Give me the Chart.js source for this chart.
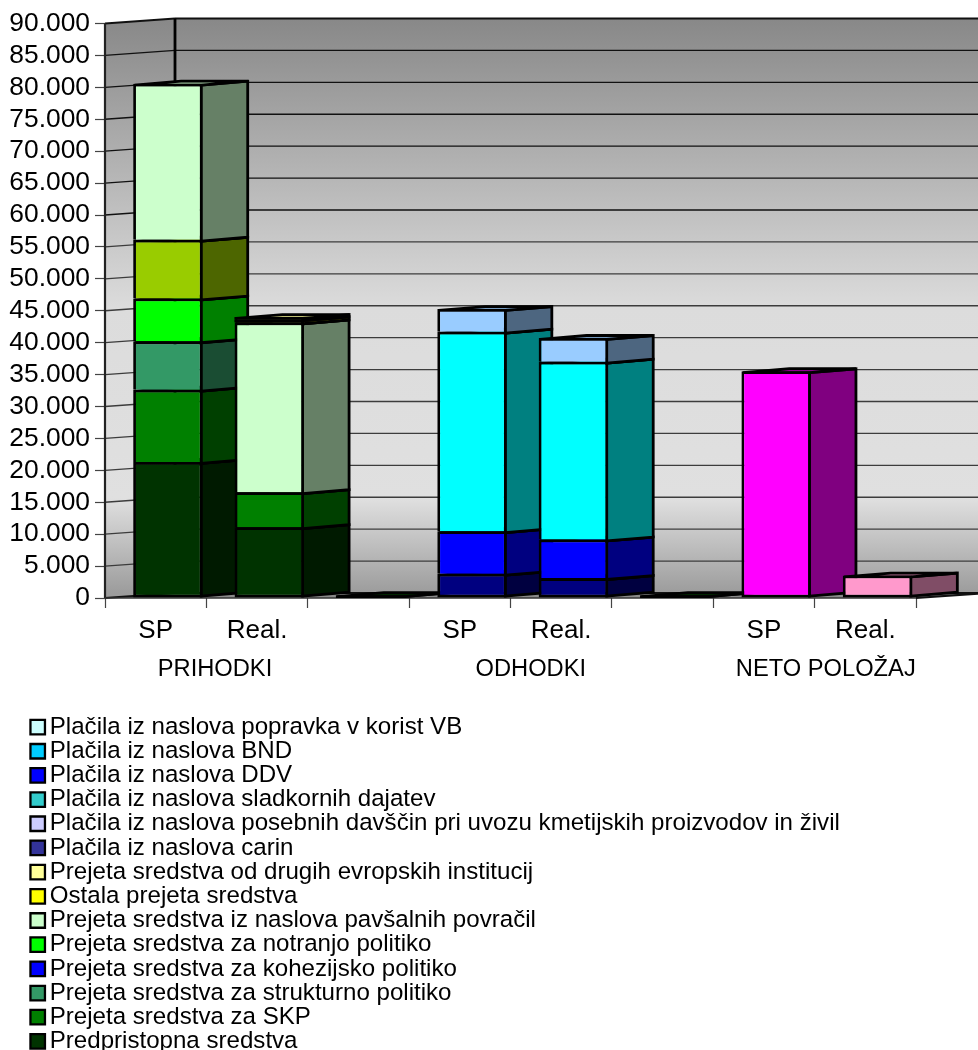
<!DOCTYPE html>
<html>
<head>
<meta charset="utf-8">
<style>
  html, body { margin: 0; padding: 0; background: #fff; overflow: hidden; }
  #wrap { width: 978px; height: 1050px; position: relative; }
</style>
<script src="https://cdn.jsdelivr.net/npm/chart.js@4/dist/chart.umd.min.js"></script>
</head>
<body>
<div id="wrap"><canvas id="budget" width="978" height="1050"></canvas></div>
<script>
// Slots on the category axis; the empty ones separate the three groups.
const categories = ['SP', 'Real.', '', 'SP', 'Real.', '', 'SP', 'Real.'];
const groupLabels = ['PRIHODKI', 'ODHODKI', 'NETO POLOŽAJ'];
const groupAnchors = [0.585, 3.70, 6.61];
const yTicks = { max: 90000, step: 5000 };

// Stacked series, bottom to top (values in millions of SIT).
const predpristopna = [21320, 11090, 0, null, null, 0, null, null];
const skp           = [11320, 5490, null, null, null, null, null, null];
const strukturna    = [7570, null, null, null, null, null, null, null];
const kohezijska    = [6700, null, null, null, null, null, null, null];
const notranja      = [9210, null, null, null, null, null, null, null];
const pavsalna      = [24450, 26600, null, null, null, null, null, null];
const ostala        = [null, 480, null, null, null, null, null, null];
const drugeInst     = [null, 350, null, null, null, null, null, null];
const carine        = [null, null, null, 3790, 3120, null, null, null];
const posebne       = [null, null, null, null, null, null, null, null];
const sladkor       = [null, null, null, null, null, null, null, null];
const ddv           = [null, null, null, 6680, 6040, null, null, null];
const bnd           = [null, null, null, 31250, 27860, null, null, null];
const popravekVB    = [null, null, null, 3550, 3710, null, null, null];
const netoPolozaj   = [null, null, null, null, null, null, 35520, 3520];

const seriesNames = [
  'Predpristopna sredstva',
  'Prejeta sredstva za SKP',
  'Prejeta sredstva za strukturno politiko',
  'Prejeta sredstva za kohezijsko politiko',
  'Prejeta sredstva za notranjo politiko',
  'Prejeta sredstva iz naslova pavšalnih povračil',
  'Ostala prejeta sredstva',
  'Prejeta sredstva od drugih evropskih institucij',
  'Plačila iz naslova carin',
  'Plačila iz naslova posebnih davščin pri uvozu kmetijskih proizvodov in živil',
  'Plačila iz naslova sladkornih dajatev',
  'Plačila iz naslova DDV',
  'Plačila iz naslova BND',
  'Plačila iz naslova popravka v korist VB'
];
const seriesValues = [predpristopna, skp, strukturna, kohezijska, notranja, pavsalna, ostala,
  drugeInst, carine, posebne, sladkor, ddv, bnd, popravekVB];
const barColors = ['#003300', '#008000', '#339966', '#00FF00', '#99CC00', '#CCFFCC', '#FFFF00',
  '#FFFF99', '#000080', '#CCCCFF', '#33CCCC', '#0000FF', '#00FFFF', '#99CCFF'];
const legendColors = ['#003300', '#008000', '#339966', '#0000FF', '#00FF00', '#CCFFCC', '#FFFF00',
  '#FFFF99', '#333399', '#CCCCFF', '#33CCCC', '#0000FF', '#00CCFF', '#CCFFFF'];
const netoColors = ['#FF00FF', '#FF00FF', '#FF00FF', '#FF00FF', '#FF00FF', '#FF00FF', '#FF00FF', '#FF99CC'];

const FONT = '"Liberation Sans", Arial, sans-serif';
const WALL_DEPTH = { x: 70, y: -5 };
const BAR_DEPTH = { x: 46.5, y: -3.9 };
const BAR_SHIFT = 12.2;
const OUTLINE = 2.8;
const LEGEND_X = 37.7;
const LEGEND_PADDING = 0.08;

function shade(hex, k) {
  const n = parseInt(hex.slice(1), 16);
  const c = s => Math.round(((n >> s) & 255) * k);
  return `rgb(${c(16)},${c(8)},${c(0)})`;
}

function polygon(ctx, pts, fill, stroke, width) {
  ctx.beginPath();
  pts.forEach((p, i) => i ? ctx.lineTo(p[0], p[1]) : ctx.moveTo(p[0], p[1]));
  ctx.closePath();
  if (fill) { ctx.fillStyle = fill; ctx.fill(); }
  if (stroke) { ctx.strokeStyle = stroke; ctx.lineWidth = width; ctx.stroke(); }
}

function segment(ctx, x1, y1, x2, y2, color, width) {
  ctx.beginPath();
  ctx.moveTo(x1, y1);
  ctx.lineTo(x2, y2);
  ctx.strokeStyle = color;
  ctx.lineWidth = width;
  ctx.stroke();
}

// Back wall, side wall, floor and gridlines of the 3D plot box.
function drawWalls(chart) {
  const { ctx, chartArea: a, scales: { y } } = chart;
  const dx = WALL_DEPTH.x, dy = WALL_DEPTH.y;
  const g = ctx.createLinearGradient(0, a.top + dy, 0, a.bottom + dy);
  g.addColorStop(0, '#888888');
  g.addColorStop(0.505, '#dcdcdc');
  g.addColorStop(0.835, '#e0e0e0');
  g.addColorStop(1, '#9c9c9c');
  polygon(ctx, [[a.left, a.top], [a.left + dx, a.top + dy], [a.left + dx, a.bottom + dy], [a.left, a.bottom]], g);
  polygon(ctx, [[a.left + dx, a.top + dy], [a.right + dx, a.top + dy], [a.right + dx, a.bottom + dy], [a.left + dx, a.bottom + dy]], g);
  polygon(ctx, [[a.left, a.bottom], [a.right, a.bottom], [a.right + dx, a.bottom + dy], [a.left + dx, a.bottom + dy]], '#8a8a8a');
  y.ticks.forEach(t => {
    const py = y.getPixelForValue(t.value);
    const strong = t.value === yTicks.max || t.value === 0;
    const shadeLine = t.value < 60000 ? '#3c3c3c' : '#111111';
    segment(ctx, a.left, py, a.left + dx, py + dy, strong ? '#111' : shadeLine, strong ? 2.2 : 1.4);
    segment(ctx, a.left + dx, py + dy, a.right + dx, py + dy, strong ? '#111' : shadeLine, strong ? 2.2 : 1.4);
  });
  segment(ctx, a.left, a.top, a.left, a.bottom, '#222', 2.2);
  segment(ctx, a.left + dx, a.top + dy, a.left + dx, a.bottom + dy, '#000', 2.8);
  segment(ctx, a.left, a.bottom, a.right, a.bottom, '#333', 1.6);
  segment(ctx, a.right, a.bottom, a.right + dx, a.bottom + dy, '#111', 2.2);
}

// One stack segment: side and top faces first, then the library's own bar element.
function drawSegment(ctx, bar, color, isZero, onFloor) {
  const { x, y, base, width } = bar.getProps(['x', 'y', 'base', 'width'], true);
  const half = OUTLINE / 2;
  const l = x - width / 2, r = x + width / 2;
  const dx = BAR_DEPTH.x, dy = BAR_DEPTH.y;
  const low = onFloor ? base - half : base + half;
  const high = isZero ? low : y + half;
  ctx.lineJoin = 'miter';
  polygon(ctx, [[r - half, low], [r - half + dx, low + dy], [r - half + dx, high + dy], [r - half, high]], shade(color, 0.5), '#000', OUTLINE);
  polygon(ctx, [[l + half, high], [r - half, high], [r - half + dx, high + dy], [l + half + dx, high + dy]], shade(color, 0.75), '#000', OUTLINE);
  if (isZero) {
    segment(ctx, l, low, r, low, '#000', OUTLINE);
  } else {
    bar.draw(ctx);
    // Very thin layers close up under their outlines.
    if (base - y < 2 * OUTLINE) {
      ctx.fillStyle = '#000';
      ctx.fillRect(l, y, width, base - y);
    }
  }
}

const plotBox = {
  id: 'plotBox',
  afterLayout(chart) {
    // The key list sits in its own column under the plot. The clip box is kept
    // wide so the swatches, centred on the entries' left edge, are not cut.
    const legend = chart.legend;
    legend.left = 0;
    legend.right = 978;
    legend.top = 715 - LEGEND_PADDING;
    legend.bottom = 1100;
    legend.width = 978;
    legend.height = legend.bottom - legend.top;
    if (!legend.placedEntries) {
      const drawEntries = legend._draw;
      legend._draw = function () {
        this.left = LEGEND_X - LEGEND_PADDING;
        drawEntries.call(this);
        this.left = 0;
      };
      legend.placedEntries = true;
    }
  },
  beforeDatasetsDraw(chart) {
    const ctx = chart.ctx;
    ctx.save();
    drawWalls(chart);
    ctx.translate(BAR_SHIFT, 0);
    categories.forEach((_, slot) => {
      let onFloor = true;
      chart.data.datasets.forEach((ds, di) => {
        const v = ds.data[slot];
        if (v === null || v === undefined) return;
        const bar = chart.getDatasetMeta(di).data[slot];
        const color = Array.isArray(ds.backgroundColor) ? ds.backgroundColor[slot] : ds.backgroundColor;
        drawSegment(ctx, bar, color, v === 0, onFloor);
        onFloor = false;
      });
    });
    ctx.restore();
    return false;
  },
  afterDraw(chart) {
    // Group captions below the SP / Real. labels.
    const { ctx, scales: { x } } = chart;
    ctx.save();
    ctx.fillStyle = '#000';
    ctx.font = '23.7px ' + FONT;
    ctx.textAlign = 'center';
    ctx.textBaseline = 'middle';
    groupLabels.forEach((t, i) => ctx.fillText(t, x.getPixelForValue(groupAnchors[i]), 669));
    ctx.restore();
  }
};

const datasets = seriesNames.map((name, i) => ({
  label: name,
  data: seriesValues[i],
  backgroundColor: barColors[i]
}));
datasets.push({ label: 'Neto položaj', data: netoPolozaj, backgroundColor: netoColors });
datasets.forEach(d => {
  const floorSeries = d.data === predpristopna || d.data === carine || d.data === netoPolozaj;
  d.borderColor = '#000';
  // Neighbouring layers share one line: only the layer on the floor has a lower edge.
  d.borderWidth = { top: OUTLINE, left: OUTLINE, right: OUTLINE, bottom: floorSeries ? OUTLINE : 0 };
  d.borderSkipped = false;
  d.inflateAmount = 0;
  d.categoryPercentage = 0.685;
  d.barPercentage = 1;
});

new Chart(document.getElementById('budget'), {
  type: 'bar',
  data: { labels: categories, datasets },
  plugins: [plotBox],
  options: {
    responsive: false,
    animation: false,
    events: [],
    layout: { padding: { top: 23.5, right: 62, left: 0, bottom: 0 } },
    scales: {
      x: {
        stacked: true,
        grid: { drawOnChartArea: false, tickLength: 10, tickColor: '#444', tickWidth: 1.2, offset: true },
        border: { display: false },
        afterFit(s) { s.height = 1050 - 598; s.paddingLeft = 0; s.paddingRight = 0; },
        ticks: {
          autoSkip: false, maxRotation: 0, minRotation: 0, padding: 7,
          color: '#000', font: { family: FONT, size: 26 }
        }
      },
      y: {
        stacked: true,
        min: 0,
        max: yTicks.max,
        grid: { drawOnChartArea: false, tickLength: 10, tickColor: '#444', tickWidth: 1.2 },
        border: { display: false },
        afterFit(s) { s.width = 105; },
        ticks: {
          stepSize: yTicks.step, autoSkip: false, padding: 5, color: '#000',
          font: { family: FONT, size: 26.4 },
          callback: v => String(v).replace(/\B(?=(\d{3})+$)/g, '.')
        }
      }
    },
    plugins: {
      tooltip: { enabled: false },
      title: { display: false },
      legend: {
        position: 'chartArea',
        align: 'start',
        labels: {
          usePointStyle: true,
          boxWidth: 0.01,
          boxHeight: 14.5,
          padding: LEGEND_PADDING,
          color: '#000',
          font: { family: FONT, size: 24.1 },
          generateLabels: () => seriesNames.map((name, i) => ({
            text: name,
            fillStyle: legendColors[i],
            strokeStyle: '#000',
            lineWidth: 2.3,
            pointStyle: 'rect',
            hidden: false,
            datasetIndex: i
          })).reverse()
        }
      }
    }
  }
});
</script>
</body>
</html>
